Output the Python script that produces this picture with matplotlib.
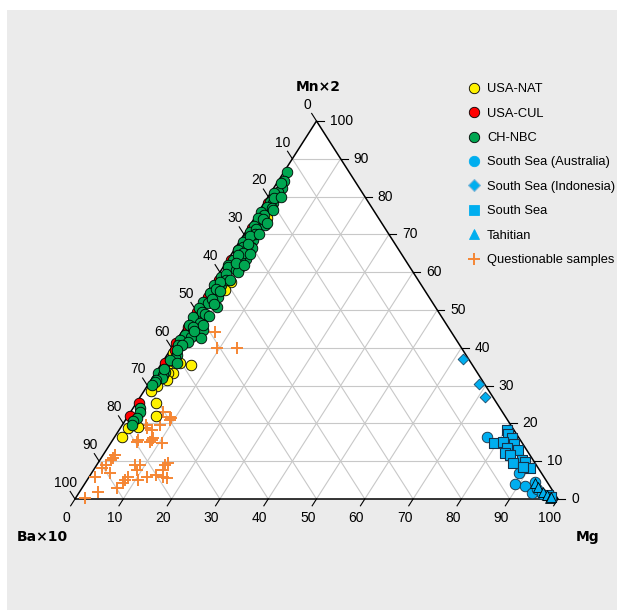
import numpy as np
import matplotlib.pyplot as plt
from matplotlib import font_manager
from matplotlib.lines import Line2D
from matplotlib.patches import Rectangle, Polygon

plt.rcParams['font.family'] = ['Liberation Sans', 'DejaVu Sans']

# Ternary data in percent: Mn (x2) and Mg, Ba (x10) = 100 - Mn - Mg
usa_nat_mn = [74.3, 57.5, 55.3, 52.0, 48.0, 38.5, 35.9, 35.4, 35.9, 34.1, 33.3, 33.3,
              31.5, 30.0, 28.5, 25.3, 22.0, 19.1, 18.7, 16.5]
usa_nat_mg = [2.5, 3.6, 3.4, 2.2, 1.2, 1.1, 3.8, 6.4, 1.0, 2.2, 3.7, 2.7,
              3.2, 2.0, 1.5, 4.1, 5.7, 3.5, 1.7, 1.4]

usa_cul_mn = [78.2, 71.6, 66.0, 63.2, 58.0, 53.5, 49.5, 45.5, 43.5, 41.2, 39.4, 36.0, 25.5, 22.0]
usa_cul_mg = [0.8, 0.8, 0.8, 0.7, 0.8, 0.7, 0.6, 0.6, 3.4, 0.4, 1.0, 0.6, 0.6, 0.3]

ch_nbc_mn = [86.6, 84.2, 82.2, 81.3, 80.9, 78.7, 78.2, 77.3, 76.0, 75.1, 74.3, 72.5, 72.3,
             70.7, 68.5, 68.5, 68.1, 66.7, 66.7, 66.3, 65.9, 63.6, 63.2, 63.2, 61.9, 61.5,
             61.5, 60.6, 60.1, 58.8, 56.6, 56.6, 54.4, 54.4, 53.5, 52.2, 51.8, 50.9, 50.4,
             48.2, 47.8, 46.5, 46.0, 44.7, 43.4, 42.9, 42.5, 42.1, 41.6, 40.7, 40.7, 38.1,
             37.2, 36.8, 35.9, 33.7, 33.3, 32.8, 31.9, 31.5, 31.0, 30.2, 24.0, 23.1, 21.3,
             20.7, 19.6, 83.5, 79.5, 77.0, 74.0, 71.5, 70.0, 69.5, 67.5, 65.0, 64.5, 62.5,
             59.5, 58.0, 57.5, 55.5, 53.0, 49.5, 49.0, 45.5, 44.5, 39.5, 34.5, 80.0, 76.5,
             73.0, 70.0, 64.8, 62.0, 58.0, 55.0, 51.5, 48.5, 46.0]
ch_nbc_mg = [0.6, 1.2, 1.8, 1.3, 0.8, 1.0, 1.9, 1.0, 0.6, 1.6, 0.8, 3.0, 1.0,
             0.8, 2.6, 1.2, 0.7, 1.4, 3.1, 3.4, 0.8, 3.6, 2.5, 1.1, 0.7, 1.0,
             3.4, 3.1, 3.7, 0.9, 2.0, 0.5, 1.0, 0.7, 2.9, 0.5, 1.7, 3.9, 0.4,
             0.4, 2.6, 2.6, 0.5, 4.2, 1.0, 2.6, 4.9, 0.7, 2.6, 1.0, 1.7, 2.0,
             2.1, 1.2, 3.1, 1.8, 0.6, 1.8, 2.0, 1.1, 1.0, 0.8, 1.4, 1.9, 2.1,
             1.7, 1.9, 0.8, 1.5, 2.2, 2.0, 1.8, 2.2, 1.4, 2.0, 2.2, 1.5, 2.0,
             1.5, 2.2, 1.2, 1.4, 1.8, 1.5, 2.5, 1.6, 2.4, 1.4, 1.2, 2.6, 2.8,
             3.3, 3.1, 3.8, 3.9, 3.0, 2.6, 3.0, 3.4, 3.6]

australia_mn = [16.4, 6.8, 4.0, 3.4, 1.7, 4.6, 2.6, 1.2]
australia_mg = [77.0, 88.5, 89.2, 91.5, 93.8, 92.9, 94.4, 96.0]

indonesia_mn = [37.0, 30.4, 27.1]
indonesia_mg = [61.9, 68.5, 71.3]

south_sea_mn = [18.3, 17.2, 16.2, 14.7, 15.2, 14.6, 13.4, 13.0, 12.1, 11.6, 10.3, 9.4,
                9.9, 8.1, 8.5, 1.1, 0.5]
south_sea_mg = [80.2, 81.1, 82.3, 79.5, 81.1, 83.6, 82.7, 85.3, 83.0, 84.3, 87.4, 85.9,
                88.2, 90.2, 88.6, 97.4, 98.3]

tahitian_mn = [4.2, 3.3, 1.9, 1.1, 0.3, 0.6]
tahitian_mg = [93.1, 94.3, 96.0, 97.1, 98.1, 98.2]

quest_mn = [44.3, 39.9, 39.9, 23.1, 21.8, 21.3, 20.9, 19.6, 19.6, 18.7, 18.3, 16.1, 15.6,
            15.2, 15.2, 15.6, 14.7, 11.6, 10.8, 10.3, 9.0, 8.1, 6.8, 5.9, 1.9, 0.2, 9.0,
            9.0, 7.7, 5.9, 5.0, 4.3, 2.8, 5.0, 5.9, 6.3, 5.9, 5.5, 9.0, 9.4, 7.7]
quest_mg = [6.8, 9.4, 13.6, 6.7, 8.8, 9.3, 9.2, 7.8, 5.0, 5.5, 6.7, 8.2, 8.1,
            7.9, 5.2, 5.3, 10.6, 2.4, 2.5, 2.4, 2.0, 1.5, 3.9, 1.2, 3.9, 2.0, 7.9,
            8.9, 8.9, 8.1, 7.8, 7.8, 7.2, 10.6, 11.9, 13.7, 15.3, 16.3, 14.1, 14.6, 14.4]

ticks = list(range(0, 101, 10))

yellow = '#fff200'
red = '#ff0000'
green = '#00a651'
blue = '#00aeef'
orange = '#f58634'

# narrow face for the legend if there is one
installed = {f.name for f in font_manager.fontManager.ttflist}
if 'Liberation Sans Narrow' in installed:
    legend_font = {'family': 'Liberation Sans Narrow', 'size': 11}
else:
    legend_font = {'family': 'Liberation Sans', 'size': 9.3}


def tern_xy(mn, mg):
    # x along the base (Ba -> Mg), y = height (Mn)
    mn = np.asarray(mn, float)
    mg = np.asarray(mg, float)
    return mg + mn / 2, mn


fig = plt.figure(figsize=(6.17, 6.10), dpi=100)
fig.patch.set_facecolor('white')
bg = Rectangle((7 / 617, 0), 1, 600 / 610, transform=fig.transFigure,
               facecolor='#ebebeb', edgecolor='none', zorder=-10)
fig.add_artist(bg)

ax = fig.add_axes([75 / 617, 111 / 610, 483 / 617, 378 / 610])
ax.set_xlim(0, 100)
ax.set_ylim(0, 100)
ax.axis('off')

ax.add_patch(Polygon([(0, 0), (100, 0), (50, 100)], closed=True, facecolor='white',
                     edgecolor='none', zorder=0))

# grid
for v in range(10, 100, 10):
    ax.plot([v / 2, 100 - v / 2], [v, v], color='#c8c8c8', lw=0.8, zorder=1)
    ax.plot([v, v + (100 - v) / 2], [0, 100 - v], color='#c8c8c8', lw=0.8, zorder=1)
    ax.plot([100 - v, (100 - v) / 2], [0, 100 - v], color='#c8c8c8', lw=0.8, zorder=1)

ax.add_patch(Polygon([(0, 0), (100, 0), (50, 100)], closed=True, facecolor='none',
                     edgecolor='black', lw=1.1, zorder=2, clip_on=False))

# ticks and tick labels
for v in ticks:
    # bottom axis: Mg
    ax.plot([v, v - 0.9], [0, -1.8], color='black', lw=0.8, clip_on=False)
    ax.text(v - 1.75, -5.0, str(v), ha='center', va='center', fontsize=10)
    # left axis: Ba
    bx, by = (100 - v) / 2, 100 - v
    ax.plot([bx, bx - 1.0], [by, by + 2.0], color='black', lw=0.8, clip_on=False)
    ax.text(bx - 1.9, by + 4.3, str(v), ha='center', va='center', fontsize=10)
    # right axis: Mn
    rx, ry = 100 - v / 2, v
    ax.plot([rx, rx + 1.5], [ry, ry], color='black', lw=0.8, clip_on=False)
    ax.text(rx + 2.7, ry, str(v), ha='left', va='center', fontsize=10)

ax.text(50.3, 109, 'Mn×2', ha='center', va='center', fontsize=10, fontweight='bold',
        family='DejaVu Sans')
ax.text(-6.8, -10.0, 'Ba×10', ha='center', va='center', fontsize=10, fontweight='bold',
        family='DejaVu Sans')
ax.text(106.2, -10.0, 'Mg', ha='center', va='center', fontsize=10, fontweight='bold',
        family='DejaVu Sans')

# data
x, y = tern_xy(quest_mn, quest_mg)
ax.scatter(x, y, marker='+', s=70, color=orange, linewidths=1.4, zorder=3, clip_on=False)

for mn, mg, col in [(usa_nat_mn, usa_nat_mg, yellow), (usa_cul_mn, usa_cul_mg, red),
                    (ch_nbc_mn, ch_nbc_mg, green)]:
    x, y = tern_xy(mn, mg)
    ax.scatter(x, y, marker='o', s=58, facecolor=col, edgecolor='black', linewidths=0.6,
               zorder=4, clip_on=False)

x, y = tern_xy(australia_mn, australia_mg)
ax.scatter(x, y, marker='o', s=58, facecolor=blue, edgecolor='#1c2f40', linewidths=0.6,
           zorder=4, clip_on=False)
x, y = tern_xy(indonesia_mn, indonesia_mg)
ax.scatter(x, y, marker='D', s=30, facecolor=blue, edgecolor='#1c4a6a', linewidths=0.6,
           zorder=4, clip_on=False)
x, y = tern_xy(south_sea_mn, south_sea_mg)
ax.scatter(x, y, marker='s', s=62, facecolor=blue, edgecolor='#16324a', linewidths=0.8,
           zorder=5, clip_on=False)
x, y = tern_xy(tahitian_mn, tahitian_mg)
ax.scatter(x, y, marker='^', s=50, facecolor=blue, edgecolor='black', linewidths=0.6,
           zorder=6, clip_on=False)

# legend, drawn by hand so the rows sit where the reference has them
labels = ['USA-NAT', 'USA-CUL', 'CH-NBC', 'South Sea (Australia)', 'South Sea (Indonesia)',
          'South Sea', 'Tahitian', 'Questionable samples']
styles = [
    dict(marker='o', ms=7.5, mfc=yellow, mec='black', mew=0.6),
    dict(marker='o', ms=7.5, mfc=red, mec='black', mew=0.6),
    dict(marker='o', ms=7.5, mfc=green, mec='black', mew=0.6),
    dict(marker='o', ms=7.5, mfc=blue, mec=blue, mew=0.6),
    dict(marker='D', ms=6, mfc=blue, mec='#7fb7d8', mew=0.8),
    dict(marker='s', ms=7, mfc=blue, mec=blue, mew=0.6),
    dict(marker='^', ms=7.5, mfc=blue, mec=blue, mew=0.6),
    dict(marker='+', ms=9, mfc=orange, mec=orange, mew=1.4),
]
for i, (lab, st) in enumerate(zip(labels, styles)):
    yf = 1 - (87.7 + 24.4 * i) / 610
    fig.add_artist(Line2D([474 / 617], [yf], ls='none', transform=fig.transFigure, **st))
    fig.text(487 / 617, yf, lab, ha='left', va='center_baseline', fontdict=legend_font)

fig.savefig('out.png', dpi=100)
